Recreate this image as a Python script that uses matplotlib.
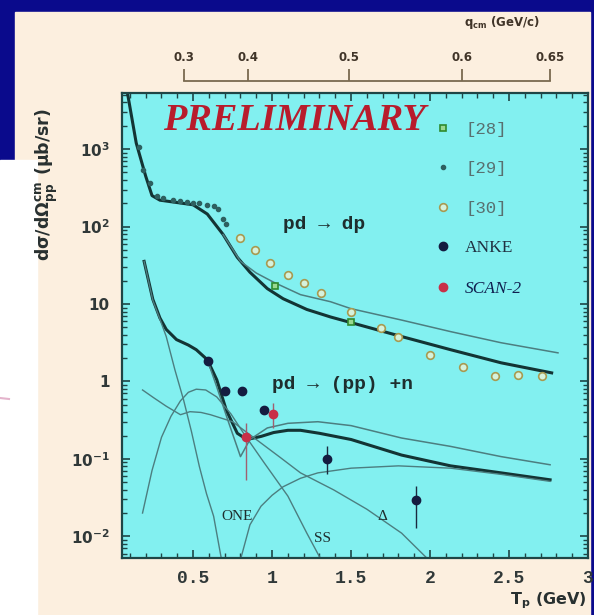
import matplotlib
matplotlib.use("Agg")
import matplotlib.pyplot as plt
from matplotlib.patches import Rectangle
from matplotlib.lines import Line2D
from matplotlib.ticker import MultipleLocator, LogLocator, NullFormatter

plt.rcParams['mathtext.default'] = 'bf'

# ---- values: Tp in GeV, cross section in ub/sr ----
# pd -> dp, thick and thin theory curves
dp_thick_tp = [0.08, 0.14, 0.20, 0.24, 0.29, 0.40, 0.50, 0.59, 0.69, 0.78, 0.86, 0.97,
               1.07, 1.22, 1.37, 1.50, 1.82, 2.13, 2.45, 2.77]
dp_thick_xs = [6000, 1200, 447, 251, 219, 204, 191, 145, 79, 40, 25.7, 15.8,
               11.7, 8.5, 6.8, 5.75, 3.8, 2.57, 1.74, 1.29]
dp_thin_tp = [0.69, 0.80, 0.90, 1.01, 1.18, 1.37, 1.50, 1.82, 2.13, 2.45, 2.81]
dp_thin_xs = [79, 35.5, 25.1, 19.1, 13.2, 10.7, 8.7, 6.2, 4.4, 3.16, 2.34]

# pd -> dp data
ref28_tp = [1.02, 1.50]
ref28_xs = [17.2, 5.9]
ref29_tp = [0.16, 0.18, 0.225, 0.27, 0.31, 0.37, 0.42, 0.46, 0.50, 0.54, 0.59, 0.63, 0.66, 0.69, 0.71]
ref29_xs = [1070, 537, 363, 245, 234, 221, 214, 209, 200, 200, 191, 182, 166, 126, 107]
ref30_tp = [0.80, 0.89, 0.99, 1.10, 1.20, 1.31, 1.50, 1.69, 1.80, 2.00, 2.21, 2.41, 2.56, 2.71]
ref30_xs = [70.8, 50.1, 33.9, 24.0, 18.6, 13.8, 7.9, 4.9, 3.8, 2.2, 1.55, 1.16, 1.22, 1.16]

# pd -> (pp) + n, total curves
pp_thick_tp = [0.19, 0.245, 0.29, 0.33, 0.395, 0.47, 0.52, 0.59, 0.65, 0.71, 0.78, 0.84,
               0.93, 1.01, 1.10, 1.18, 1.30, 1.50, 1.82, 2.13, 2.45, 2.76]
pp_thick_xs = [35.5, 11.5, 6.6, 4.7, 3.47, 2.95, 2.57, 1.91, 1.05, 0.427, 0.214, 0.178,
               0.195, 0.219, 0.234, 0.234, 0.214, 0.178, 0.112, 0.0813, 0.066, 0.0537]
pp_thin_tp = [0.59, 0.65, 0.72, 0.80, 0.86, 0.97, 1.10, 1.29, 1.50, 1.82, 2.13, 2.45, 2.76]
pp_thin_xs = [1.91, 0.85, 0.316, 0.107, 0.178, 0.251, 0.288, 0.302, 0.269, 0.186, 0.145, 0.107, 0.084]

# pd -> (pp) + n, single contributions
one_tp = [0.19, 0.245, 0.30, 0.33, 0.385, 0.44, 0.49, 0.54, 0.585, 0.63, 0.68]
one_xs = [35.5, 11.2, 5.6, 3.8, 1.41, 0.575, 0.224, 0.0794, 0.0355, 0.0182, 0.005]
ss_tp = [0.18, 0.24, 0.30, 0.36, 0.42, 0.47, 0.52, 0.58, 0.65, 0.74, 0.82, 0.95, 1.10, 1.22, 1.31]
ss_xs = [0.02, 0.0708, 0.19, 0.355, 0.562, 0.724, 0.794, 0.776, 0.631, 0.38, 0.214,
         0.0891, 0.0331, 0.011, 0.005]
hump_tp = [0.18, 0.25, 0.33, 0.42, 0.48, 0.55, 0.61, 0.75, 0.90, 1.05, 1.18, 1.39, 1.60, 1.82, 1.99]
hump_xs = [0.776, 0.617, 0.479, 0.372, 0.407, 0.398, 0.372, 0.302, 0.178, 0.105, 0.066,
           0.0398, 0.0224, 0.011, 0.005]
delta_tp = [0.80, 0.86, 0.93, 1.00, 1.07, 1.18, 1.29, 1.50, 1.80, 2.13, 2.45, 2.76]
delta_xs = [0.005, 0.0141, 0.0245, 0.0339, 0.0437, 0.0562, 0.066, 0.0759, 0.0813,
            0.0759, 0.0631, 0.0513]

# pd -> (pp) + n data
anke_tp = [0.596, 0.703, 0.809, 0.951, 1.35, 1.913]
anke_xs = [1.81, 0.743, 0.743, 0.431, 0.100, 0.0298]
anke_lo = [1.81, 0.743, 0.743, 0.431, 0.063, 0.0129]
anke_hi = [1.81, 0.743, 0.743, 0.431, 0.145, 0.0442]
scan_tp = [0.834, 1.006]
scan_xs = [0.191, 0.383]
scan_lo = [0.0537, 0.251]
scan_hi = [0.29, 0.525]

# upper momentum scale: q_cm values and the Tp where they sit
q_labels = ['0.3', '0.4', '0.5', '0.6', '0.65']
q_tp = [0.44, 0.85, 1.49, 2.20, 2.76]

x_ticks = [0.5, 1, 1.5, 2, 2.5, 3]
x_ticklabels = ['0.5', '1', '1.5', '2', '2.5', '3']
y_ticks = [1e-2, 1e-1, 1, 10, 1e2, 1e3]
y_ticklabels = [r'$10^{-2}$', r'$10^{-1}$', '1', '10', r'$10^{2}$', r'$10^{3}$']

W, H = 594, 615
fig = plt.figure(figsize=(W / 100, H / 100), dpi=100)
fig.patch.set_facecolor('#0A0A8C')
# slide panels
fig.patches.append(Rectangle((15 / W, 0), (590 - 15) / W, 1 - 12 / H,
                             transform=fig.transFigure, color='#FCEFDF', zorder=-10))
fig.patches.append(Rectangle((0, 0), 37 / W, 1 - 160 / H,
                             transform=fig.transFigure, color='#FFFFFF', zorder=-9))
fig.add_artist(Line2D([0, 9 / W], [1 - 398 / H, 1 - 399 / H], color='#E4B4CC', lw=1.5, zorder=-8))

frame = '#1E4646'
thick = '#133434'
thin = '#4C7E80'

ax = fig.add_axes([122 / W, 1 - 557.7 / H, 466 / W, 464.7 / H])
ax.set_facecolor('#82F0F0')
ax.set_yscale('log')

ax.plot(dp_thick_tp, dp_thick_xs, color=thick, lw=2.2)
ax.plot(dp_thin_tp, dp_thin_xs, color=thin, lw=1.1)
ax.plot(pp_thick_tp, pp_thick_xs, color=thick, lw=2.2)
ax.plot(pp_thin_tp, pp_thin_xs, color=thin, lw=1.1)
for tp, xs in [(one_tp, one_xs), (ss_tp, ss_xs), (hump_tp, hump_xs), (delta_tp, delta_xs)]:
    ax.plot(tp, xs, color=thin, lw=1.0)

# error bars
ax.errorbar(anke_tp, anke_xs,
            yerr=[[v - lo for v, lo in zip(anke_xs, anke_lo)], [hi - v for v, hi in zip(anke_xs, anke_hi)]],
            fmt='none', ecolor='#1A2A40', elinewidth=1.0)
ax.errorbar(scan_tp, scan_xs,
            yerr=[[v - lo for v, lo in zip(scan_xs, scan_lo)], [hi - v for v, hi in zip(scan_xs, scan_hi)]],
            fmt='none', ecolor='#A06070', elinewidth=1.0)

ax.plot(ref28_tp, ref28_xs, 's', ms=5, mfc='#9AD890', mec='#2E8A2E', mew=1.2, label='[28]')
ax.plot(ref29_tp, ref29_xs, 'o', ms=3, mfc='#2E6060', mec='#2E6060', label='[29]')
ax.plot(ref30_tp, ref30_xs, 'o', ms=5.5, mfc='#D6F2DC', mec='#A89A50', mew=1.2, label='[30]')
ax.plot(anke_tp, anke_xs, 'o', ms=6, mfc='#141C40', mec='#141C40', label='ANKE')
ax.plot(scan_tp, scan_xs, 'o', ms=6, mfc='#C83048', mec='#C83048', label='SCAN-2')

ax.set_xlim(0.05, 3.0)
ax.set_ylim(5.3e-3, 5.3e3)
ax.set_xticks(x_ticks)
ax.set_xticklabels(x_ticklabels, family=['Liberation Mono', 'DejaVu Sans Mono'],
                   fontweight='bold', fontsize=13, color='#303838')
ax.set_yticks(y_ticks)
ax.set_yticklabels(y_ticklabels, fontsize=11, color='#303838', fontweight='bold')
ax.xaxis.set_minor_locator(MultipleLocator(0.1))
ax.yaxis.set_minor_locator(LogLocator(base=10, subs=range(2, 10), numticks=20))
ax.yaxis.set_minor_formatter(NullFormatter())
ax.tick_params(which='both', direction='in', top=True, right=True, color=frame)
ax.tick_params(which='major', length=6, width=1.2)
ax.tick_params(which='minor', length=3.5, width=1.0)
ax.tick_params(axis='x', pad=9)
ax.tick_params(axis='y', pad=9)
for s in ax.spines.values():
    s.set_color(frame)
    s.set_linewidth(1.6)

ax.set_ylabel(r'd$\sigma$/d$\Omega^{cm}_{pp}$ ($\mu$b/sr)', fontsize=12.5, fontweight='bold', color='#283030')
ax.yaxis.set_label_coords(-0.133, 0.804)
ax.set_xlabel(r'T$_p$ (GeV)', fontsize=11.5, fontweight='bold', color='#283030', ha='right')
ax.xaxis.set_label_coords(0.997, -0.07)

ax.text(0.088, 0.94, 'PRELIMINARY', transform=ax.transAxes, ha='left', va='center',
        family='Liberation Serif', fontweight='bold', style='italic', fontsize=27.5, color='#B81C2C')
mono = ['Liberation Mono', 'DejaVu Sans Mono']
ax.text(1.07, 105, 'pd \u2192 dp', ha='left', va='center', family=mono, fontweight='bold',
        fontsize=14, color='#1E2E2E')
ax.text(1.0, 0.906, 'pd \u2192 (pp) +n', ha='left', va='center', family=mono, fontweight='bold',
        fontsize=14, color='#1E2E2E')
for label, tp, xs in [('ONE', 0.78, 0.018), ('SS', 1.32, 0.0095), ('\u0394', 1.70, 0.018)]:
    ax.text(tp, xs, label, ha='center', va='center', family='Liberation Serif',
            fontsize=11, color='#1E2E2E')

leg = ax.legend(loc='upper left', bbox_to_anchor=(0.6695, 0.938), frameon=False,
                handlelength=1.0, handletextpad=0.8, labelspacing=1.4, borderpad=0,
                borderaxespad=0, fontsize=12.5)
for i, t in enumerate(leg.get_texts()):
    if i < 3:
        t.set_family(mono)
        t.set_color('#587070')
    elif i == 3:
        t.set_family('Liberation Serif')
        t.set_color('#203040')
    else:
        t.set_family('Liberation Serif')
        t.set_style('italic')
        t.set_color('#102050')

# detached upper q_cm scale
axq = fig.add_axes([122 / W, 1 - 81 / H, 466 / W, 14 / H])
axq.set_facecolor('none')
axq.set_xlim(ax.get_xlim())
axq.set_yticks([])
for side in ['top', 'left', 'right']:
    axq.spines[side].set_visible(False)
axq.spines['bottom'].set_bounds(q_tp[0], q_tp[-1])
axq.spines['bottom'].set_color('#7A6A50')
axq.spines['bottom'].set_linewidth(1.3)
axq.set_xticks(q_tp)
axq.set_xticklabels(q_labels, fontsize=8.5, fontweight='bold', color='#403428')
axq.tick_params(axis='x', bottom=True, top=False, labelbottom=False, labeltop=True,
                direction='in', length=9, width=1.3, color='#7A6A50', pad=2)
axq.xaxis.set_label_position('top')
axq.set_xlabel(r'q$_{cm}$ (GeV/c)', fontsize=8.5, fontweight='bold', color='#403428')
axq.xaxis.set_label_coords(0.815, 3.9)

fig.savefig('out.png', dpi=100, facecolor=fig.get_facecolor())
